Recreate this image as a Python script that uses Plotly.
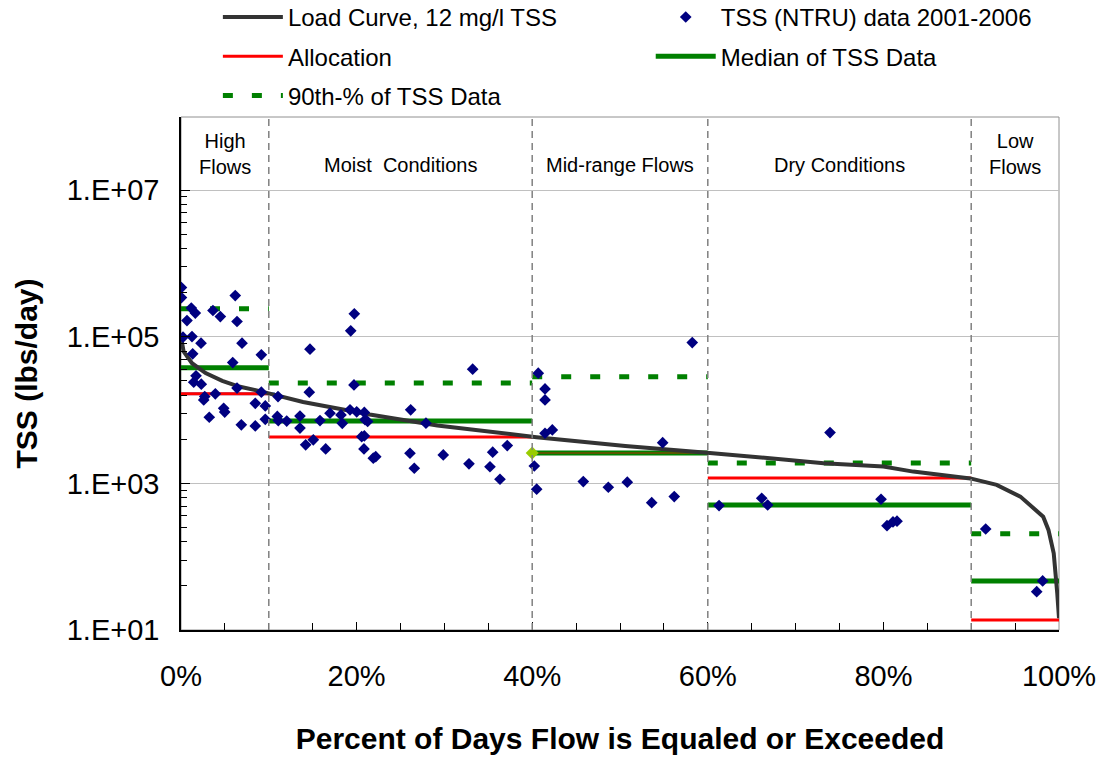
import plotly.graph_objects as go

# ---------------- data ----------------
zone_edges = [0, 10, 40, 60, 90, 100]
zone_labels = ["High<br>Flows", "Moist  Conditions", "Mid-range Flows", "Dry Conditions", "Low<br>Flows"]

# Load duration curve (12 mg/l TSS)
curve_pct = [0, 0.3, 1.25, 2.8, 4.7, 6.6, 9.2, 13.9, 21.5, 29.2, 40.5, 50.6, 59.9, 66.7,
             73.2, 80, 83.4, 89.9, 92.9, 95.6, 98.2, 98.8, 99.4, 99.8, 100]
curve_load = [100000, 63100, 43700, 32000, 25100, 21000, 17900, 12900, 8710, 6170, 4270,
              3240, 2630, 2240, 1890, 1700, 1450, 1170, 955, 661, 352, 232, 111, 32, 14.5]

# Zone statistics (lbs/day)
allocation = [16700, 4310, 2610, 1190, 13.7]
median_tss = [37800, 7130, 2610, 508, 46.7]
p90_tss = [241000, 23500, 28500, 1900, 205]
mos_end_pct = 10.7  # light-blue segment under the high-flow allocation

# TSS (NTRU) observations 2001-2006: percent of days flow exceeded, load
obs_pct = [
    0.05, 0.05, 1.17, 1.63, 0.68, 3.64, 4.48, 6.18, 6.38, 0.23, 1.25, 2.28, 6.95, 1.33, 9.15,
    5.89, 1.71, 1.45, 2.31, 6.38, 9.15, 2.70, 3.91, 2.59, 8.46, 9.60, 4.86, 4.98, 3.22, 9.60,
    6.87, 8.46,
    11.05, 10.97, 11.08, 19.74, 19.33, 14.69, 19.70, 14.61, 12.04, 13.55, 13.55, 15.83, 16.97,
    18.22, 18.37, 19.25, 20.01, 20.88, 20.96, 21.26, 20.58, 20.88, 15.07, 14.20, 16.48, 20.84,
    21.90, 22.18, 33.22, 26.16, 27.90, 26.08, 26.57, 29.87, 32.80, 35.19, 35.50, 37.16, 36.33,
    40.69, 41.46, 41.46, 41.46, 42.29, 40.24, 40.51, 45.82, 48.67, 50.83, 53.61, 56.18, 54.86,
    58.23,
    73.92, 61.28, 66.14, 66.82, 79.73, 80.41, 81.09, 81.55,
    91.65, 98.14, 97.46,
]
obs_load = [
    471000, 344000, 247000, 211000, 167000, 229000, 189000, 366000, 162000, 99000, 101000,
    82000, 82000, 58600, 56800, 44600, 29400, 24100, 22600, 20000, 17600, 15300, 16700, 13800,
    12400, 11400, 10600, 9400, 8000, 7500, 6300, 6100,
    15300, 8200, 7200, 206000, 121000, 68000, 22100, 17600, 7100, 8300, 5700, 7200, 9100, 8600,
    6600, 10100, 9500, 9300, 7400, 7000, 4350, 4450, 3930, 3360, 2960, 2960, 2210, 2320, 36200,
    10100, 6640, 2580, 1610, 2450, 1850, 1690, 2670, 3280, 1140,
    31900, 19500, 13800, 4840, 5370, 1730, 834, 1060, 887, 1040, 547, 661, 3600, 83500,
    4940, 498, 628, 508, 608, 265, 298, 305,
    239, 46.7, 33.3,
]

y_tickvals = [1e1, 1e3, 1e5, 1e7]
y_ticktext = ["1.E+01", "1.E+03", "1.E+05", "1.E+07"]
x_tickvals = [0, 20, 40, 60, 80, 100]
x_ticktext = ["0%", "20%", "40%", "60%", "80%", "100%"]

# ---------------- helpers ----------------
def zone_segments(values):
    xs, ys = [], []
    for i, v in enumerate(values):
        xs += [zone_edges[i], zone_edges[i + 1], None]
        ys += [v, v, None]
    return xs, ys

FONT = "Liberation Sans, Arial, sans-serif"
GREEN = "#008000"

fig = go.Figure()

# light blue segment under high flows allocation
fig.add_trace(go.Scatter(x=[0, mos_end_pct], y=[allocation[0], allocation[0]], mode="lines",
                         line=dict(color="#5B8CE8", width=3), showlegend=False, hoverinfo="skip"))

ax, ay = zone_segments(allocation)
fig.add_trace(go.Scatter(x=ax, y=ay, mode="lines", name="Allocation",
                         line=dict(color="#FF0000", width=3),
                         legend="legend", legendgroup="a", legendrank=2))

mx, my = zone_segments(median_tss)
fig.add_trace(go.Scatter(x=mx, y=my, mode="lines", name="Median of TSS Data",
                         line=dict(color=GREEN, width=5),
                         legend="legend2", legendgroup="m", legendrank=2))

# allocation visible through median in mid-range zone
fig.add_trace(go.Scatter(x=[zone_edges[2], zone_edges[3]], y=[allocation[2], allocation[2]],
                         mode="lines", line=dict(color="#7A4A00", width=1.5),
                         showlegend=False, hoverinfo="skip"))

px_, py_ = zone_segments(p90_tss)
fig.add_trace(go.Scatter(x=px_, y=py_, mode="lines", name="90th-% of TSS Data",
                         line=dict(color=GREEN, width=5, dash="10px,19px"),
                         legend="legend", legendgroup="p", legendrank=3))

fig.add_trace(go.Scatter(x=curve_pct, y=curve_load, mode="lines",
                         name="Load Curve, 12 mg/l TSS",
                         line=dict(color="#333333", width=4),
                         legend="legend", legendgroup="c", legendrank=1))

fig.add_trace(go.Scatter(x=[zone_edges[2]], y=[median_tss[2]], mode="markers",
                         marker=dict(symbol="diamond", size=10, color="#99CC00"),
                         showlegend=False, hoverinfo="skip"))

fig.add_trace(go.Scatter(x=obs_pct, y=obs_load, mode="markers",
                         name="TSS (NTRU) data 2001-2006",
                         marker=dict(symbol="diamond", size=9, color="#000080"),
                         legend="legend2", legendgroup="d", legendrank=1))

# zone dividers
for xe in zone_edges[1:-1]:
    fig.add_shape(type="line", x0=xe, x1=xe, y0=0, y1=1, xref="x", yref="paper",
                  line=dict(color="#808080", width=1.5, dash="7px,5px"), layer="above")

# plot area border (gray)
fig.add_shape(type="rect", x0=0, x1=1, y0=0, y1=1, xref="paper", yref="paper",
              line=dict(color="#909090", width=1), layer="below")

# zone labels
for i, lab in enumerate(zone_labels):
    xc = (zone_edges[i] + zone_edges[i + 1]) / 2
    two = "<br>" in lab
    fig.add_annotation(x=xc, y=0.928 if two else 0.906, xref="x", yref="paper", text=lab,
                       showarrow=False, font=dict(size=20, color="black", family=FONT),
                       xanchor="center", yanchor="middle")

minor_y = [k * k * 10 ** n for n in (1, 3, 5) for k in range(2, 10)]

legend_common = dict(xanchor="left", yanchor="top", orientation="v",
                     font=dict(size=24, family=FONT), itemwidth=60, tracegroupgap=5,
                     bgcolor="rgba(0,0,0,0)")

fig.update_layout(
    width=1102, height=757,
    margin=dict(l=181, r=43, t=117, b=127, autoexpand=False),
    paper_bgcolor="white", plot_bgcolor="white",
    font=dict(family=FONT, color="black"),
    legend=dict(x=0.042, y=1.238, **legend_common),
    legend2=dict(x=0.535, y=1.238, **legend_common),
    xaxis=dict(range=[0, 100], tickvals=x_tickvals, ticktext=x_ticktext,
               ticks="inside", ticklen=8, tickwidth=1, tickcolor="black",
               showline=True, linecolor="black", linewidth=1.5, showgrid=False, zeroline=False,
               minor=dict(dtick=5, ticks="inside", ticklen=7, tickcolor="black", showgrid=False),
               tickfont=dict(size=29, family=FONT), ticklabelstandoff=19,
               title=dict(text="<b>Percent of Days Flow is Equaled or Exceeded</b>",
                          font=dict(size=30, family=FONT), standoff=37),
               automargin=False),
    yaxis=dict(type="log", range=[1, 8], tickvals=y_tickvals, ticktext=y_ticktext,
               ticks="inside", ticklen=9, tickwidth=1, tickcolor="black",
               showline=True, linecolor="black", linewidth=1.5,
               showgrid=True, gridcolor="#C0C0C0", gridwidth=1, zeroline=False,
               minor=dict(tickvals=minor_y, ticks="inside", ticklen=6, tickcolor="black",
                          showgrid=False),
               tickfont=dict(size=29, family=FONT), ticklabelstandoff=14,
               title=dict(text="<b>TSS (lbs/day)</b>", font=dict(size=30, family=FONT),
                          standoff=20),
               automargin=False),
)

fig.write_html("out.html", config={"displayModeBar": False},
               post_script="document.body.style.margin='0px';")
